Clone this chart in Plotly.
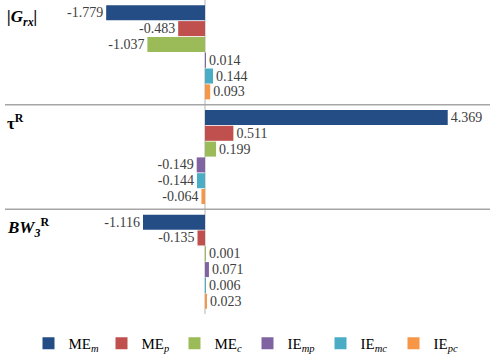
import plotly.graph_objects as go

categories = ["Grx", "tauR", "BW3R"]
category_labels = ["<b><i>|G<sub>rx</sub>|</i></b>", "<b>τ<sup>R</sup></b>", "<b><i>BW<sub>3</sub></i><sup>R</sup></b>"]
series_names = ["ME<sub><i>m</i></sub>", "ME<sub><i>p</i></sub>", "ME<sub><i>c</i></sub>",
                "IE<sub><i>mp</i></sub>", "IE<sub><i>mc</i></sub>", "IE<sub><i>pc</i></sub>"]
ME_m = [-1.779, 4.369, -1.116]
ME_p = [-0.483, 0.511, -0.135]
ME_c = [-1.037, 0.199, 0.001]
IE_mp = [0.014, -0.149, 0.071]
IE_mc = [0.144, -0.144, 0.006]
IE_pc = [0.093, -0.064, 0.023]
series_values = [ME_m, ME_p, ME_c, IE_mp, IE_mc, IE_pc]
colors = ["#234D84", "#C0504D", "#9BBB59", "#8064A2", "#4BACC6", "#F79646"]

FONT = "Liberation Serif, Times New Roman, serif"

fig = go.Figure()
for name, vals, col in zip(series_names, series_values, colors):
    fig.add_trace(go.Bar(
        y=categories, x=vals, orientation="h", name=name,
        marker=dict(color=col, line=dict(width=0)),
        text=[f"{v:.3f}" for v in vals], textposition="outside",
        textfont=dict(family=FONT, size=14, color="#404040"),
        constraintext="none", cliponaxis=False,
    ))

for i, lab in enumerate(category_labels):
    fig.add_annotation(x=0, xref="paper", y=i - 0.33, yref="y", text=lab,
                       showarrow=False, xanchor="left", yanchor="middle",
                       font=dict(family=FONT, size=17, color="#000000"))

for b in [0.5, 1.5]:
    fig.add_shape(type="line", xref="paper", x0=0, x1=1, yref="y", y0=b, y1=b,
                  line=dict(color="#A6A6A6", width=1.5))

fig.update_layout(
    width=490, height=360,
    margin=dict(l=5, r=0, t=0, b=42),
    paper_bgcolor="white", plot_bgcolor="white",
    barmode="group", bargap=0.094, bargroupgap=0.05,
    showlegend=True,
    legend=dict(orientation="h", x=0.5, xanchor="center", y=-0.094, yanchor="middle",
                font=dict(family=FONT, size=15, color="#000000"),
                itemwidth=30, entrywidth=28, entrywidthmode="pixels", tracegroupgap=0),
    xaxis=dict(range=[-3.6, 5.13], showgrid=False, showticklabels=False, ticks="",
               zeroline=True, zerolinecolor="#D9D9D9", zerolinewidth=1.5),
    yaxis=dict(autorange="reversed", showticklabels=False, ticks="", showgrid=False,
               zeroline=False, categoryorder="array", categoryarray=categories),
    font=dict(family=FONT),
)

fig.write_html("out.html")
